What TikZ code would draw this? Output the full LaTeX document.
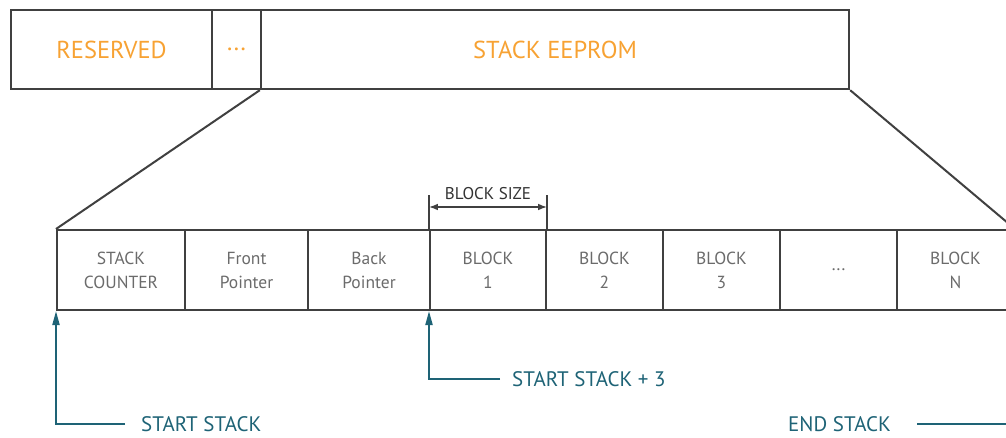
\documentclass[tikz,border=0pt]{standalone}
\usepackage{fontspec}
\setmainfont{PT Sans}
\usetikzlibrary{arrows.meta,positioning,calc}
\definecolor{memorange}{HTML}{F7A233}
\definecolor{ptrteal}{HTML}{1E6376}
\definecolor{cellgray}{HTML}{6B6B6B}
\definecolor{edgegray}{HTML}{404040}

\begin{document}
\begin{tikzpicture}[
  x=1pt, y=-1pt,
  >=Latex,
  region/.style={draw=edgegray,line width=2.4pt,minimum height=79pt,inner sep=0pt,font=\fontsize{24.5}{24}\selectfont,text=memorange},
  cell/.style={draw=edgegray,line width=2pt,minimum height=80pt,inner sep=0pt,align=center,font=\fontsize{17.5}{24}\selectfont,text=cellgray},
  zoomline/.style={draw=edgegray,line width=2pt},
  dimline/.style={draw=edgegray,line width=1.3pt},
  pointer/.style={draw=ptrteal,line width=2pt,-{Triangle[length=14pt,width=7pt]}},
  ptrlab/.style={text=ptrteal,font=\fontsize{21}{21}\selectfont,anchor=west,inner sep=0pt}
]
  \useasboundingbox (0,0) rectangle (1006,437);
  \clip (0,0) rectangle (1006,437);

  % memory map
  \node[region,minimum width=201pt] (reserved) at (111.5,49.5) {RESERVED};
  \node[region,minimum width=49pt] (gap) at (236.5,49.5) {...};
  \node[region,minimum width=588pt] (eeprom) at (555,49.5) {STACK EEPROM};

  % stack layout
  \node[cell,minimum width=128pt] (counter) at (121,270) {STACK\\COUNTER};
  \node[cell,minimum width=123pt] (front) at (246.5,270) {Front\\Pointer};
  \node[cell,minimum width=122pt] (back) at (369,270) {Back\\Pointer};
  \node[cell,minimum width=116pt] (blk1) at (488,270) {BLOCK\\1};
  \node[cell,minimum width=117pt] (blk2) at (604.5,270) {BLOCK\\2};
  \node[cell,minimum width=117pt] (blk3) at (721.5,270) {BLOCK\\3};
  \node[cell,minimum width=117pt] (blkdots) at (838.5,270) {...};
  \node[cell,minimum width=117pt] (blkN) at (955.5,270) {BLOCK\\N};

  \draw[zoomline] (eeprom.south west) -- (counter.north west);
  \draw[zoomline] (eeprom.south east) -- (blkN.north east);

  % block size
  \coordinate (sizeL) at ($(blk1.north west)+(0,-34)$);
  \coordinate (sizeR) at ($(blk1.north east)+(0,-34)$);
  \draw[dimline] (blk1.north west) -- (sizeL);
  \draw[dimline] (blk1.north east) -- (sizeR);
  \draw[dimline,<->] ($(sizeL)+(0,12)$) -- ($(sizeR)+(0,12)$);
  \node[font=\fontsize{17}{17}\selectfont,text=black!80,inner sep=0pt] (sizelab) at (488,194) {BLOCK SIZE};

  % pointers
  \node[ptrlab] (startlab) at (141,424) {START STACK};
  \node[ptrlab] (start3lab) at (512,379) {START STACK + 3};
  \node[ptrlab] (endlab) at (788,424) {END STACK};

  \draw[pointer] ([xshift=-16pt]startlab.west) -| (counter.south west);
  \draw[pointer] ([xshift=-12pt]start3lab.west) -| (blk1.south west);
  \draw[pointer] ([xshift=26pt]endlab.east) -| (blkN.south east);
\end{tikzpicture}
\end{document}
